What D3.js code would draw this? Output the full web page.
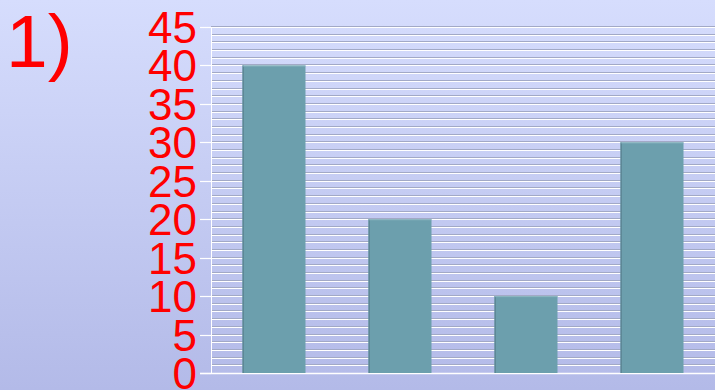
<!DOCTYPE html>
<html>
<head>
<meta charset="utf-8">
<script src="https://cdn.jsdelivr.net/npm/d3@7"></script>
<style>
  html, body { margin: 0; padding: 0; overflow: hidden; }
  svg { display: block; }
</style>
</head>
<body>
<svg id="chart" width="715" height="390"></svg>
<script>
// Chart data
const categories = ["1", "2", "3", "4"];
const values = [40, 20, 10, 30];
const yTickLabels = [0, 5, 10, 15, 20, 25, 30, 35, 40, 45];
const title = "1)";

const W = 715, H = 390;
const svg = d3.select("#chart");

// Background gradient
const defs = svg.append("defs");
const bg = defs.append("linearGradient").attr("id", "bg").attr("x1", 0).attr("y1", 0).attr("x2", 0).attr("y2", 1);
bg.append("stop").attr("offset", "0%").attr("stop-color", "#d6ddfd");
bg.append("stop").attr("offset", "100%").attr("stop-color", "#b3bae8");
svg.append("rect").attr("width", W).attr("height", H).attr("fill", "url(#bg)");

const plotLeft = 211, plotRight = 715, plotTop = 27, plotBottom = 373;

const y = d3.scaleLinear().domain([0, 45]).range([plotBottom, plotTop]);
const x = d3.scaleBand().domain(categories).range([plotLeft, plotRight])
  .paddingInner(0.5).paddingOuter(0.25);

// Minor grid lines at every unit, with a grey shade above a white line
const grid = svg.append("g");
const gridVals = d3.range(0, 46);
grid.selectAll("line.shade").data(gridVals.filter(v => v > 0)).join("line")
  .attr("class", "shade")
  .attr("x1", plotLeft).attr("x2", plotRight)
  .attr("y1", d => Math.round(y(d)) - 0.5).attr("y2", d => Math.round(y(d)) - 0.5)
  .attr("stroke", "#a2a9c6").attr("stroke-width", 1);
grid.selectAll("line.hi").data(gridVals).join("line")
  .attr("class", "hi")
  .attr("x1", plotLeft).attr("x2", plotRight)
  .attr("y1", d => Math.round(y(d)) + 0.5).attr("y2", d => Math.round(y(d)) + 0.5)
  .attr("stroke", "#ffffff").attr("stroke-width", 1);

// Axis line and major ticks
svg.append("line")
  .attr("x1", plotLeft + 0.5).attr("x2", plotLeft + 0.5)
  .attr("y1", plotTop).attr("y2", plotBottom + 1)
  .attr("stroke", "#ffffff").attr("stroke-width", 1);
svg.append("g").selectAll("line").data(yTickLabels).join("line")
  .attr("x1", 200).attr("x2", plotLeft)
  .attr("y1", d => Math.round(y(d)) + 0.5).attr("y2", d => Math.round(y(d)) + 0.5)
  .attr("stroke", "#ffffff").attr("stroke-width", 1.2);
svg.append("line")
  .attr("x1", 200).attr("x2", plotRight)
  .attr("y1", Math.round(y(45)) + 0.5).attr("y2", Math.round(y(45)) + 0.5)
  .attr("stroke", "#ffffff").attr("stroke-width", 1.2);
svg.append("line")
  .attr("x1", 200).attr("x2", plotRight)
  .attr("y1", Math.round(y(0)) + 0.5).attr("y2", Math.round(y(0)) + 0.5)
  .attr("stroke", "#ffffff").attr("stroke-width", 1.5);

// Bars
const bars = svg.append("g");
bars.selectAll("rect.bar").data(values).join("rect")
  .attr("class", "bar")
  .attr("x", (d, i) => x(categories[i]))
  .attr("y", d => y(d))
  .attr("width", x.bandwidth())
  .attr("height", d => y(0) - y(d))
  .attr("fill", "#6c9fad");
bars.selectAll("rect.edge").data(values).join("rect")
  .attr("class", "edge")
  .attr("x", (d, i) => x(categories[i]))
  .attr("y", d => y(d))
  .attr("width", 1.5)
  .attr("height", d => y(0) - y(d))
  .attr("fill", "#5d8796");
bars.selectAll("line.top").data(values).join("line")
  .attr("class", "top")
  .attr("x1", (d, i) => x(categories[i])).attr("x2", (d, i) => x(categories[i]) + x.bandwidth())
  .attr("y1", d => y(d) + 0.5).attr("y2", d => y(d) + 0.5)
  .attr("stroke", "#8db6c1").attr("stroke-width", 1);

// Y-axis labels
svg.append("g").selectAll("text").data(yTickLabels).join("text")
  .attr("x", 197)
  .attr("y", d => y(d) + 16)
  .attr("text-anchor", "end")
  .attr("font-family", "Liberation Sans, Arial, sans-serif")
  .attr("font-size", 44)
  .attr("fill", "#ff0000")
  .text(d => d);

// Title
svg.append("text")
  .attr("x", 6).attr("y", 67)
  .attr("font-family", "Liberation Sans, Arial, sans-serif")
  .attr("font-size", 75)
  .attr("fill", "#ff0000")
  .text(title);
</script>
</body>
</html>
